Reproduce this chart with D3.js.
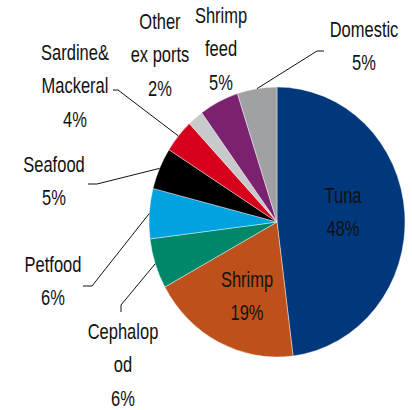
<!DOCTYPE html>
<html>
  <head>
    <meta charset="utf-8">
    <title>Pie</title>
    <style>
      body { margin: 0; background: #fff; }
      text { font-family: "Liberation Sans", Arial, sans-serif; font-size: 16.5px; fill: #111; }
      .leader { fill: none; stroke: #111; stroke-width: 1px; }
    </style>
  </head>
  <body>
    <div id="pie"></div>
    <script src="https://cdnjs.cloudflare.com/ajax/libs/d3/7.8.5/d3.min.js"></script>
    <script>
      // categories, clockwise from 12 o'clock
      var categories = ["Tuna", "Shrimp", "Cephalopod", "Petfood", "Seafood",
                        "Sardine&Mackeral", "Other exports", "Shrimp feed", "Domestic"];
      var shares     = [48, 19, 6, 6, 5, 4, 2, 5, 5];
      var labelLines = [["Tuna"], ["Shrimp"], ["Cephalop", "od"], ["Petfood"], ["Seafood"],
                        ["Sardine&", "Mackeral"], ["Other", "ex ports"], ["Shrimp", "feed"], ["Domestic"]];
      var colors     = ["#00387b", "#be511b", "#00876a", "#00a2df", "#000000",
                        "#d6001c", "#c8c9cb", "#7a2170", "#a0a1a3"];

      var width  = 412,
          height = 410,
          cx = 277, cy = 222,
          rx = 128, ry = 135,
          lineH = 33.3,
          stretch = 1.3;

      // where each label sits (centre x, first baseline) and its leader elbow
      var layout = [
        { x: 343, y: 203, inside: true },
        { x: 247, y: 287, inside: true },
        { x: 123, y: 339, elbow: [121, 305], end: [121, 312] },
        { x: 53,  y: 272, elbow: [92, 286],  end: [83, 286] },
        { x: 54,  y: 172, elbow: [97, 184],  end: [88, 184] },
        { x: 75,  y: 60,  elbow: [118, 90],  end: [113, 90] },
        { x: 160, y: 29 },
        { x: 221, y: 23 },
        { x: 364, y: 37,  elbow: [317, 51],  end: [324, 51] }
      ];

      var data = categories.map(function(c, i) {
        return { name: c, value: shares[i], lines: labelLines[i], color: colors[i], pos: layout[i] };
      });

      var svg = d3.select("#pie").append("svg")
                  .attr("width", width)
                  .attr("height", height);

      var pie = d3.pie().sort(null).value(function(d) { return d.value; });
      var arc = d3.arc().innerRadius(0).outerRadius(rx);
      var edge = d3.arc().innerRadius(rx).outerRadius(rx);

      var arcs = pie(data);

      svg.append("g")
         .attr("transform", "translate(" + cx + "," + cy + ") scale(1," + (ry / rx) + ")")
         .selectAll("path")
         .data(arcs)
         .enter().append("path")
         .attr("d", arc)
         .attr("fill", function(d) { return d.data.color; })
         .attr("stroke", "#fff")
         .attr("stroke-width", 0.4);

      // leader lines
      svg.selectAll("polyline.leader")
         .data(arcs.filter(function(d) { return d.data.pos.elbow; }))
         .enter().append("polyline")
         .attr("class", "leader")
         .attr("points", function(d) {
           var c = edge.centroid(d);
           var p0 = [cx + c[0], cy + c[1] * ry / rx];
           return [p0, d.data.pos.elbow, d.data.pos.end].map(function(p) { return p.join(","); }).join(" ");
         });

      // labels: name lines then percentage
      var labels = svg.selectAll("g.label")
         .data(arcs)
         .enter().append("g")
         .attr("class", "label");

      labels.each(function(d) {
        var g = d3.select(this);
        var rows = d.data.lines.concat([d.data.value + "%"]);
        rows.forEach(function(t, k) {
          g.append("text")
           .attr("transform", "translate(" + d.data.pos.x + "," + (d.data.pos.y + k * lineH) + ") scale(1," + stretch + ")")
           .attr("text-anchor", "middle")
           .text(t);
        });
      });
    </script>
  </body>
</html>
